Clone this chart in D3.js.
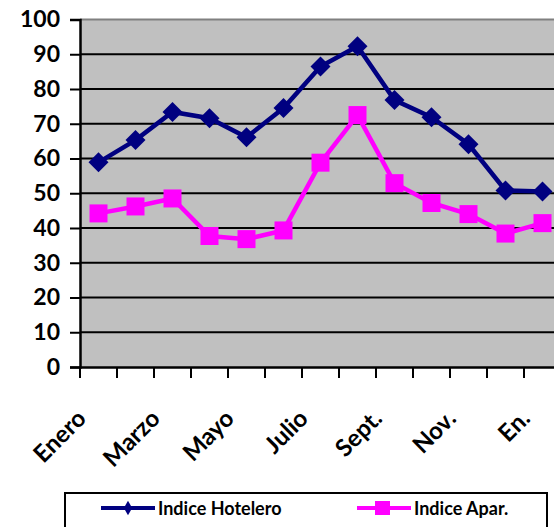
<!DOCTYPE html>
<html>
<head>
<meta charset="utf-8">
<script src="https://cdn.jsdelivr.net/npm/d3@7"></script>
<style>
  body { margin: 0; background: #fff; }
  text { font-family: Lato, "Open Sans", sans-serif; font-weight: bold; }
</style>
</head>
<body>
<div id="chart"></div>
<script>
var svgWidth = 554;
var svgHeight = 527;

// data
var months = ["Enero", "Feb.", "Marzo", "Abril", "Mayo", "Junio", "Julio", "Agosto", "Sept.", "Oct.", "Nov.", "Dic.", "En."];
var shownLabels = ["Enero", "Marzo", "Mayo", "Julio", "Sept.", "Nov.", "En."];
var hotelero = [58.9, 65.3, 73.4, 71.6, 66.1, 74.5, 86.5, 92.3, 76.8, 71.9, 64.1, 50.8, 50.5];
var apar = [44.2, 46.2, 48.5, 37.7, 36.8, 39.3, 58.8, 72.5, 52.9, 47.2, 44.0, 38.4, 41.4];
var yTicks = [0, 10, 20, 30, 40, 50, 60, 70, 80, 90, 100];

var margin = { top: 19.5, left: 80 };
var bandW = 37;
var width = bandW * months.length;
var height = 347.5;

var svg = d3.select("#chart")
  .append("svg")
  .attr("width", svgWidth)
  .attr("height", svgHeight);

var chartGroup = svg.append("g")
  .attr("transform", `translate(${margin.left}, ${margin.top})`);

var x = d3.scaleBand().domain(months).range([0, width]);
var y = d3.scaleLinear().domain([0, 100]).range([height, 0]);
var cx = d => x(d) + x.bandwidth() / 2;

// plot background
chartGroup.append("rect")
  .attr("width", width)
  .attr("height", height)
  .attr("fill", "#c0c0c0");

// top border
chartGroup.append("line")
  .attr("x1", 0).attr("x2", width)
  .attr("y1", 0).attr("y2", 0)
  .attr("stroke", "#808080")
  .attr("stroke-width", 2);

// gridlines
chartGroup.selectAll(".grid")
  .data(yTicks.filter(d => d > 0 && d < 100))
  .enter()
  .append("line")
  .attr("x1", 0).attr("x2", width)
  .attr("y1", d => y(d)).attr("y2", d => y(d))
  .attr("stroke", "#000")
  .attr("stroke-width", 2);

// y axis
var yAxis = d3.axisLeft(y).tickValues(yTicks).tickSize(10).tickPadding(10);
var yG = chartGroup.append("g").call(yAxis);
yG.select(".domain").attr("stroke-width", 2.5);
yG.selectAll(".tick line").attr("stroke-width", 2);
yG.selectAll(".tick text").attr("font-size", "23px").attr("fill", "#000");

// x axis
var xAxis = d3.axisBottom(x).tickSize(0).tickFormat("");
var xG = chartGroup.append("g")
  .attr("transform", `translate(0, ${height})`)
  .call(xAxis);
xG.select(".domain").attr("stroke-width", 2.5);

// x tick marks between categories
xG.selectAll(".sep")
  .data(months)
  .enter()
  .append("line")
  .attr("x1", d => x(d)).attr("x2", d => x(d))
  .attr("y1", 0).attr("y2", 11)
  .attr("stroke", "#000")
  .attr("stroke-width", 2);

// rotated category labels
xG.selectAll(".lab")
  .data(shownLabels)
  .enter()
  .append("text")
  .attr("transform", d => `translate(${cx(d) - 11}, 53) rotate(-45)`)
  .attr("text-anchor", "end")
  .attr("font-size", "24px")
  .attr("fill", "#000")
  .text(d => d);

var line = d3.line()
  .x((d, i) => cx(months[i]))
  .y(d => y(d));

// Indice Hotelero
chartGroup.append("path")
  .datum(hotelero)
  .attr("d", line)
  .attr("fill", "none")
  .attr("stroke", "#000080")
  .attr("stroke-width", 4.5);

chartGroup.selectAll(".dia")
  .data(hotelero)
  .enter()
  .append("path")
  .attr("d", d3.symbol().type(d3.symbolSquare).size(200))
  .attr("transform", (d, i) => `translate(${cx(months[i])}, ${y(d)}) rotate(45)`)
  .attr("fill", "#000080");

// Indice Apar.
chartGroup.append("path")
  .datum(apar)
  .attr("d", line)
  .attr("fill", "none")
  .attr("stroke", "#ff00ff")
  .attr("stroke-width", 4.5);

chartGroup.selectAll(".sq")
  .data(apar)
  .enter()
  .append("rect")
  .attr("x", (d, i) => cx(months[i]) - 9)
  .attr("y", d => y(d) - 9)
  .attr("width", 18)
  .attr("height", 18)
  .attr("fill", "#ff00ff");

// legend
var legend = svg.append("g");
legend.append("rect")
  .attr("x", 65).attr("y", 493)
  .attr("width", 482).attr("height", 45)
  .attr("fill", "#fff")
  .attr("stroke", "#000")
  .attr("stroke-width", 2);

var legendItems = [
  { name: "Indice Hotelero", color: "#000080", x1: 101 },
  { name: "Indice Apar.", color: "#ff00ff", x1: 357 }
];

legendItems.forEach(function(item, i) {
  legend.append("line")
    .attr("x1", item.x1).attr("x2", item.x1 + 54)
    .attr("y1", 508).attr("y2", 508)
    .attr("stroke", item.color)
    .attr("stroke-width", 4);
  if (i === 0) {
    legend.append("path")
      .attr("d", d3.symbol().type(d3.symbolDiamond).size(60))
      .attr("transform", `translate(${item.x1 + 27}, 508)`)
      .attr("fill", item.color);
  } else {
    legend.append("rect")
      .attr("x", item.x1 + 18).attr("y", 501)
      .attr("width", 15).attr("height", 14)
      .attr("fill", item.color);
  }
  legend.append("text")
    .attr("x", item.x1 + 57)
    .attr("y", 515)
    .attr("font-size", "18px")
    .attr("fill", "#000")
    .text(item.name);
});
</script>
</body>
</html>
